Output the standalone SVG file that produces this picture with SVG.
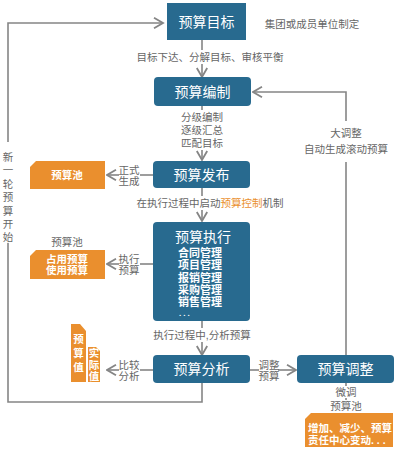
<svg xmlns="http://www.w3.org/2000/svg" width="400" height="450" viewBox="0 0 400 450">
<defs>
<marker id="arr" viewBox="0 0 12 12" refX="10.5" refY="6" markerWidth="12" markerHeight="12" markerUnits="userSpaceOnUse" orient="auto">
<path d="M1.5,0.8 L10.5,6 L1.5,11.2" fill="none" stroke="#858585" stroke-width="1.8"/>
</marker>
<style>
text{font-family:"Liberation Sans","Noto Sans CJK SC",sans-serif;}
.node{fill:#286a8f;}
.nt{fill:#fff;font-size:14px;text-anchor:middle;dominant-baseline:central;}
.it{fill:#fff;font-size:11px;font-weight:bold;dominant-baseline:central;}
.lb{fill:#666;font-size:10.5px;text-anchor:middle;dominant-baseline:central;}
.pt{fill:#fff;font-size:10.5px;font-weight:bold;text-anchor:middle;dominant-baseline:central;}
.ln{fill:none;stroke:#858585;stroke-width:1.6;}
.or{fill:#ea8f2e;}
</style>
</defs>

<g id="connectors">
<path class="ln" d="M202,383 V402 H8 V243"/>
<path class="ln" d="M8,142 V23 H163" marker-end="url(#arr)"/>
<path class="ln" d="M202,40 V50"/>
<path class="ln" d="M202,64 V77" marker-end="url(#arr)"/>
<path class="ln" d="M202,106 V110"/>
<path class="ln" d="M202,150 V160" marker-end="url(#arr)"/>
<path class="ln" d="M202,188 V196"/>
<path class="ln" d="M202,210 V221" marker-end="url(#arr)"/>
<path class="ln" d="M202,321 V328"/>
<path class="ln" d="M202,342 V355" marker-end="url(#arr)"/>
<path class="ln" d="M153,175 H140"/>
<path class="ln" d="M119,175 H107" marker-end="url(#arr)"/>
<path class="ln" d="M153,264 H140"/>
<path class="ln" d="M119,264 H107" marker-end="url(#arr)"/>
<path class="ln" d="M153,370 H140"/>
<path class="ln" d="M119,370 H107" marker-end="url(#arr)"/>
<path class="ln" d="M250,370 H259"/>
<path class="ln" d="M278,370 H296" marker-end="url(#arr)"/>
<path class="ln" d="M346,355 V162"/>
<path class="ln" d="M346,121 V92 H253" marker-end="url(#arr)"/>
<path class="ln" d="M346,383 V386"/>
<path class="ln" d="M346,398 V400"/>
</g>

<g id="labels">
<text class="lb" x="312" y="24">集团或成员单位制定</text>
<text class="lb" x="210" y="57">目标下达、分解目标、审核平衡</text>
<text class="lb" x="202" y="117">分级编制</text>
<text class="lb" x="202" y="130">逐级汇总</text>
<text class="lb" x="202" y="143">匹配目标</text>
<text class="lb" x="210" y="203">在执行过程中启动<tspan fill="#ea8f2e">预算控制</tspan>机制</text>
<text class="lb" x="202" y="335">执行过程中,分析预算</text>
<text class="lb" x="129" y="170">正式</text>
<text class="lb" x="129" y="181">生成</text>
<text class="lb" x="129" y="258.5">执行</text>
<text class="lb" x="129" y="269.5">预算</text>
<text class="lb" x="129" y="364.5">比较</text>
<text class="lb" x="129" y="375.5">分析</text>
<text class="lb" x="269" y="364.5">调整</text>
<text class="lb" x="269" y="376">预算</text>
<text class="lb" x="67" y="242">预算池</text>
<text class="lb" x="346" y="133">大调整</text>
<text class="lb" x="346" y="149">自动生成滚动预算</text>
<text class="lb" x="346" y="392">微调</text>
<text class="lb" x="346" y="406">预算池</text>
<text class="lb" x="8" y="157">新</text>
<text class="lb" x="8" y="170">一</text>
<text class="lb" x="8" y="184">轮</text>
<text class="lb" x="8" y="197">预</text>
<text class="lb" x="8" y="211">算</text>
<text class="lb" x="8" y="224">开</text>
<text class="lb" x="8" y="237">始</text>
</g>

<g id="n-target">
<rect class="node" x="167" y="3" width="79" height="37"/>
<text class="nt" x="206.5" y="21.5">预算目标</text>
</g>
<g id="n-compile">
<rect class="node" x="154" y="77" width="97" height="29" rx="4"/>
<text class="nt" x="202.5" y="91.5">预算编制</text>
</g>
<g id="n-release">
<rect class="node" x="153" y="161" width="97" height="27" rx="4"/>
<text class="nt" x="201.5" y="174.5">预算发布</text>
</g>
<g id="n-exec">
<rect class="node" x="153" y="222" width="97" height="99" rx="4"/>
<text class="nt" x="203" y="237">预算执行</text>
<text class="it" x="178" y="252.5">合同管理</text>
<text class="it" x="178" y="265">项目管理</text>
<text class="it" x="178" y="277.5">报销管理</text>
<text class="it" x="178" y="290">采购管理</text>
<text class="it" x="178" y="302">销售管理</text>
<text fill="#fff" font-size="8" font-weight="bold" x="179" y="316" letter-spacing="2">...</text>
</g>
<g id="n-analyze">
<rect class="node" x="153" y="355" width="97" height="28" rx="4"/>
<text class="nt" x="201.5" y="369">预算分析</text>
</g>
<g id="n-adjust">
<rect class="node" x="297" y="355" width="97" height="28" rx="4"/>
<text class="nt" x="345.5" y="369">预算调整</text>
</g>

<g id="pool-1">
<path class="or" d="M36,161 H105 V189 H30 V167 Z"/>
<text class="pt" x="67" y="175">预算池</text>
</g>
<g id="pool-2">
<path class="or" d="M36,250 H105 V279 H30 V256 Z"/>
<text class="pt" x="67" y="259">占用预算</text>
<text class="pt" x="67" y="270">使用预算</text>
</g>
<g id="pool-values">
<path class="or" d="M71,324 H80 L86,331 V382 H71 Z"/>
<text class="pt" x="78.5" y="339">预</text>
<text class="pt" x="78.5" y="353">算</text>
<text class="pt" x="78.5" y="367">值</text>
<path class="or" d="M88,347 H96 L100,351 V382 H88 Z"/>
<text class="pt" x="94" y="353">实</text>
<text class="pt" x="94" y="364.5">际</text>
<text class="pt" x="94" y="376">值</text>
</g>
<g id="pool-3">
<path class="or" d="M311,413 H393 V447 H305 V419 Z"/>
<text class="pt" x="308" y="428" style="text-anchor:start">增加、减少、预算</text>
<text class="pt" x="308" y="440" style="text-anchor:start">责任中心变动. . .</text>
</g>
</svg>
